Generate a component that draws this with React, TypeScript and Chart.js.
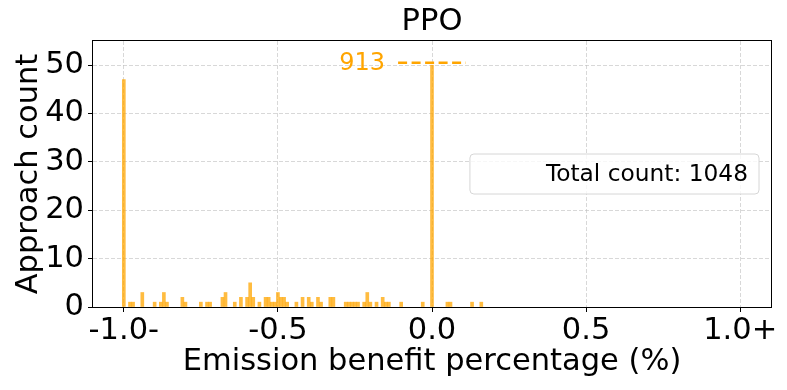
import React, { useEffect, useRef } from 'react';
import { Chart, registerables } from 'chart.js';

Chart.register(...registerables);

const chartTitle = 'PPO';
const xAxisTitle = 'Emission benefit percentage (%)';
const yAxisTitle = 'Approach count';
const legendLabel = 'Total count: 1048';

const xTickValues = [-1.0, -0.5, 0.0, 0.5, 1.0];
const xTickLabels = ['-1.0-', '-0.5', '0.0', '0.5', '1.0+'];
const yTickValues = [0, 10, 20, 30, 40, 50];

const binCenters = [
  -1.0, -0.98, -0.97, -0.94, -0.9, -0.88, -0.87, -0.86, -0.81, -0.8,
  -0.75, -0.73, -0.72, -0.68, -0.67, -0.64, -0.62, -0.6, -0.59, -0.58,
  -0.56, -0.54, -0.53, -0.52, -0.51, -0.5, -0.49, -0.48, -0.47, -0.44,
  -0.42, -0.4, -0.39, -0.37, -0.36, -0.33, -0.32, -0.28, -0.27, -0.26,
  -0.25, -0.24, -0.22, -0.21, -0.2, -0.18, -0.16, -0.15, -0.14, -0.1,
  -0.03, 0.0, 0.05, 0.06, 0.13, 0.16,
];
const binCounts = [
  47, 1, 1, 3, 1, 1, 3, 1, 2, 1,
  1, 1, 1, 2, 3, 1, 2, 2, 5, 2,
  1, 2, 2, 1, 1, 3, 2, 2, 1, 1,
  2, 2, 1, 2, 1, 2, 2, 1, 1, 1,
  1, 1, 1, 3, 1, 1, 2, 1, 1, 1,
  1, 913, 1, 1, 1, 1,
];

const clipLevel = 50;
const xMin = -1.1;
const xMax = 1.1;
const yMin = 0;
const yMax = 55;
const overflowLineHalfSpan = 0.11;

const FONT = "'DejaVu Sans', sans-serif";
const ORANGE = '#FFA500';
const BIG = 30.5;

const decorPlugin = {
  id: 'decor',
  afterDatasetsDraw(chart: any) {
    const { ctx, chartArea } = chart;
    const xs = chart.scales.x;
    const ys = chart.scales.y;
    const { left, right, top, bottom } = chartArea;
    ctx.save();

    // overflow annotation
    binCenters.forEach((c, i) => {
      if (binCounts[i] > clipLevel) {
        const yPix = ys.getPixelForValue(clipLevel) - 2.5;
        const x1 = xs.getPixelForValue(c - overflowLineHalfSpan);
        const x2 = xs.getPixelForValue(c + overflowLineHalfSpan);
        ctx.strokeStyle = ORANGE;
        ctx.lineWidth = 2.6;
        ctx.setLineDash([9, 4.5]);
        ctx.beginPath();
        ctx.moveTo(x1, yPix);
        ctx.lineTo(x2, yPix);
        ctx.stroke();
        ctx.setLineDash([]);
        ctx.fillStyle = ORANGE;
        ctx.font = `24px ${FONT}`;
        ctx.textAlign = 'right';
        ctx.textBaseline = 'middle';
        ctx.fillText(String(binCounts[i]), x1 - 13, yPix + 1);
      }
    });

    // legend box
    ctx.font = `23.3px ${FONT}`;
    const tw = ctx.measureText(legendLabel).width;
    const boxRight = right - 12;
    const textRight = boxRight - 11;
    const boxLeft = textRight - tw - 76;
    const cy = (top + bottom) / 2;
    const boxTop = cy - 20;
    const boxH = 40;
    ctx.beginPath();
    if (ctx.roundRect) {
      ctx.roundRect(boxLeft, boxTop, boxRight - boxLeft, boxH, 4);
    } else {
      ctx.rect(boxLeft, boxTop, boxRight - boxLeft, boxH);
    }
    ctx.fillStyle = 'rgba(255,255,255,0.8)';
    ctx.fill();
    ctx.strokeStyle = '#d6d6d6';
    ctx.lineWidth = 1;
    ctx.stroke();
    ctx.fillStyle = '#000';
    ctx.textAlign = 'right';
    ctx.textBaseline = 'middle';
    ctx.fillText(legendLabel, textRight, cy + 1);

    // frame
    ctx.strokeStyle = '#000';
    ctx.lineWidth = 1;
    ctx.strokeRect(Math.round(left) - 0.5, Math.round(top) - 0.5, Math.round(right - left) + 1, Math.round(bottom - top) + 1);

    // titles
    ctx.fillStyle = '#000';
    ctx.textAlign = 'center';
    ctx.textBaseline = 'middle';
    ctx.font = `${BIG}px ${FONT}`;
    ctx.fillText(chartTitle, (left + right) / 2, 22);
    ctx.fillText(xAxisTitle, (left + right) / 2, 362);
    ctx.save();
    ctx.translate(29, (top + bottom) / 2);
    ctx.rotate(-Math.PI / 2);
    ctx.fillText(yAxisTitle, 0, 0);
    ctx.restore();

    ctx.restore();
  },
};

export default function App() {
  const ref = useRef<HTMLCanvasElement | null>(null);
  useEffect(() => {
    if (!ref.current) return;
    const data = binCenters.map((c, i) => ({ x: c, y: Math.min(binCounts[i], clipLevel) }));
    const chart = new Chart(ref.current, {
      type: 'bar',
      data: {
        datasets: [
          {
            data: data as any,
            backgroundColor: 'rgba(255,165,0,0.75)',
            borderWidth: 0,
            barThickness: 3,
          },
        ],
      },
      options: {
        animation: false,
        responsive: false,
        devicePixelRatio: 1,
        layout: { padding: { left: 0, right: 16, top: 41, bottom: 0 } },
        plugins: { legend: { display: false }, tooltip: { enabled: false }, title: { display: false } },
        scales: {
          x: {
            type: 'linear',
            offset: false,
            min: xMin,
            max: xMax,
            afterBuildTicks: (s: any) => {
              s.ticks = xTickValues.map((v) => ({ value: v }));
            },
            afterFit: (s: any) => {
              s.height = 83;
            },
            ticks: {
              autoSkip: false,
              maxRotation: 0,
              color: '#000',
              font: { family: FONT, size: BIG },
              padding: 1,
              callback: (v: any) => {
                const i = xTickValues.findIndex((t) => Math.abs(t - Number(v)) < 1e-9);
                return i >= 0 ? xTickLabels[i] : '';
              },
            },
            grid: {
              offset: false,
              color: 'rgba(190,190,190,0.6)',
              lineWidth: 1,
              tickColor: '#000',
              tickLength: 5,
              tickWidth: 1,
            },
            border: { display: false, dash: [4, 2] },
          },
          y: {
            type: 'linear',
            min: yMin,
            max: yMax,
            afterBuildTicks: (s: any) => {
              s.ticks = yTickValues.map((v) => ({ value: v }));
            },
            afterFit: (s: any) => {
              s.width = 93;
            },
            ticks: {
              color: '#000',
              font: { family: FONT, size: BIG },
              padding: 4,
              callback: (v: any) => String(v),
            },
            grid: {
              color: 'rgba(190,190,190,0.6)',
              lineWidth: 1,
              tickColor: '#000',
              tickLength: 5,
              tickWidth: 1,
            },
            border: { display: false, dash: [4, 2] },
          },
        },
      },
      plugins: [decorPlugin],
    });
    return () => chart.destroy();
  }, []);
  return (
    <div style={{ position: 'fixed', left: 0, top: 0, width: 787, height: 390, background: '#fff' }}>
      <canvas ref={ref} width={787} height={390} style={{ display: 'block' }} />
    </div>
  );
}
